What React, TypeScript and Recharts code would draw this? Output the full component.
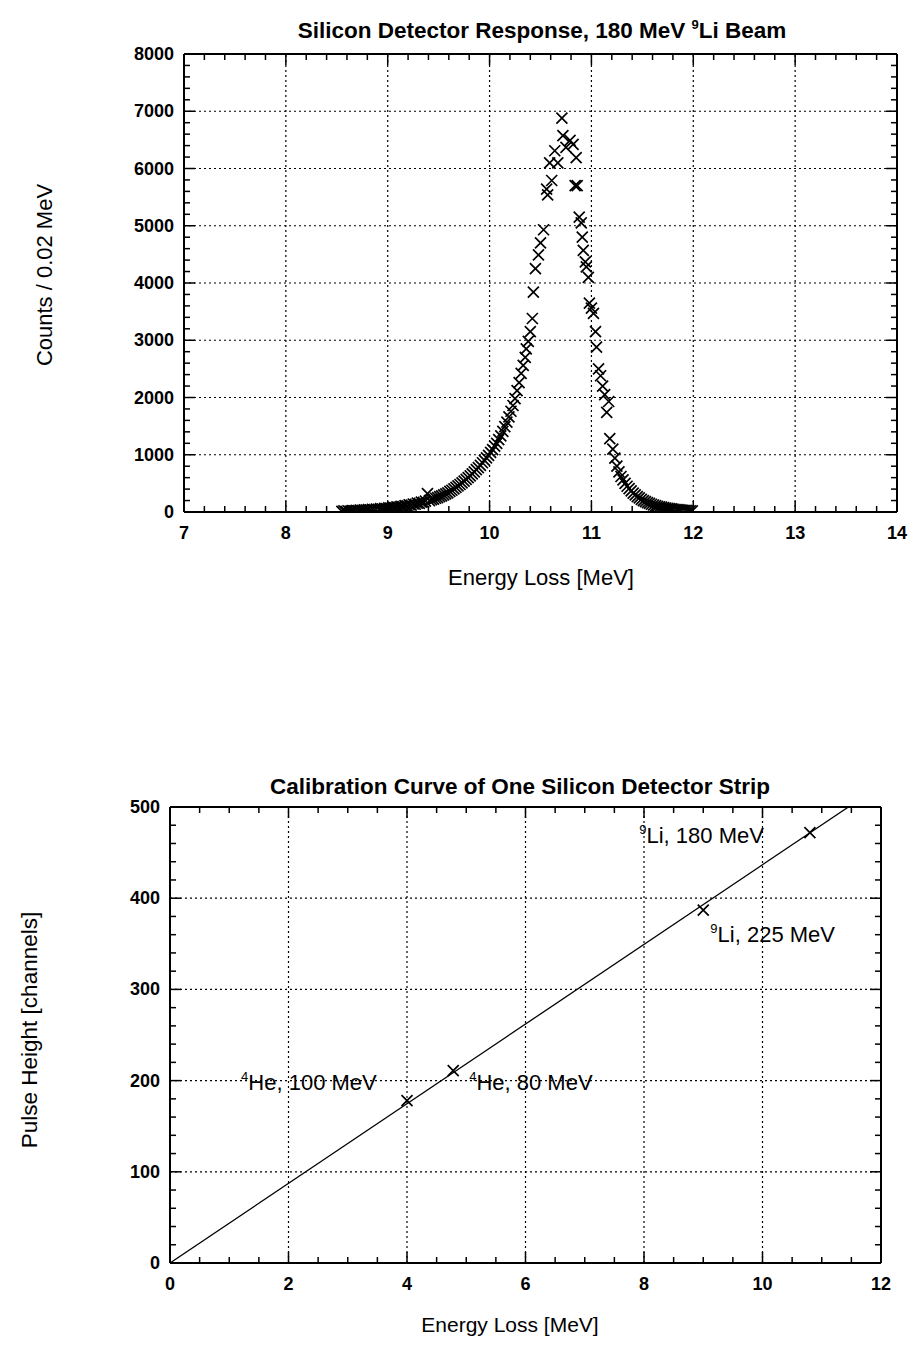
import React from 'react';
import { ScatterChart, Scatter, XAxis, YAxis, ReferenceLine } from 'recharts';

const FONT = '"Liberation Sans", Arial, Helvetica, sans-serif';

// top panel: silicon detector response, 180 MeV 9Li beam
const responseLoss = [
  8.55, 8.57, 8.59, 8.61, 8.63, 8.65, 8.67, 8.69, 8.71, 8.73,
  8.75, 8.77, 8.79, 8.81, 8.83, 8.85, 8.87, 8.89, 8.91, 8.93,
  8.95, 8.97, 8.99, 9.01, 9.03, 9.05, 9.07, 9.09, 9.11, 9.13,
  9.15, 9.17, 9.19, 9.21, 9.23, 9.25, 9.27, 9.29, 9.31, 9.33,
  9.35, 9.37, 9.39, 9.41, 9.43, 9.45, 9.47, 9.49, 9.51, 9.53,
  9.55, 9.57, 9.59, 9.61, 9.63, 9.65, 9.67, 9.69, 9.71, 9.73,
  9.75, 9.77, 9.79, 9.81, 9.83, 9.85, 9.87, 9.89, 9.91, 9.93,
  9.95, 9.97, 9.99, 10.01, 10.03, 10.05, 10.07, 10.09, 10.11, 10.13,
  10.15, 10.17, 10.19, 10.21, 10.23, 10.25, 10.27, 10.29, 10.31, 10.33,
  10.35, 10.36, 10.38, 10.40, 10.42, 10.43, 10.45, 10.48, 10.50, 10.53,
  10.56, 10.57, 10.59, 10.61, 10.64, 10.67, 10.71, 10.72, 10.75, 10.79,
  10.82, 10.84, 10.85, 10.86, 10.88, 10.90, 10.91, 10.92, 10.94, 10.95,
  10.97, 10.98, 11.00, 11.02, 11.04, 11.05, 11.07, 11.09, 11.11, 11.13,
  11.15, 11.17, 11.18, 11.21, 11.23, 11.25, 11.27, 11.29, 11.31, 11.33,
  11.35, 11.37, 11.39, 11.41, 11.43, 11.45, 11.47, 11.49, 11.51, 11.53,
  11.55, 11.57, 11.59, 11.61, 11.63, 11.65, 11.67, 11.69, 11.71, 11.73,
  11.75, 11.77, 11.79, 11.81, 11.83, 11.85, 11.87, 11.89, 11.91, 11.93,
  11.95, 11.97, 11.99,
];
const responseCounts = [
  10, 18, 12, 22, 15, 25, 20, 30, 24, 35,
  28, 38, 33, 42, 36, 48, 40, 52, 46, 58,
  52, 64, 60, 72, 66, 80, 75, 90, 85, 100,
  96, 112, 108, 125, 120, 140, 135, 155, 150, 172,
  168, 190, 320, 200, 215, 225, 240, 250, 268, 280,
  300, 318, 335, 360, 380, 405, 430, 455, 480, 510,
  540, 570, 600, 630, 665, 700, 740, 775, 815, 860,
  900, 945, 990, 1040, 1090, 1150, 1200, 1265, 1330, 1410,
  1490, 1570, 1660, 1760, 1860, 1980, 2120, 2260, 2420, 2560,
  2700, 2850, 2980, 3150, 3380, 3840, 4250, 4490, 4700, 4930,
  5640, 5540, 6100, 5790, 6310, 6100, 6880, 6575, 6370, 6490,
  6420, 5700, 6190, 5700, 5150, 5050, 4800, 4570, 4370, 4280,
  4100, 3650, 3560, 3470, 3150, 2880, 2500, 2380, 2200, 2050,
  1740, 1930, 1280, 1100, 940, 800, 700, 620, 560, 500,
  450, 410, 370, 330, 300, 270, 245, 220, 200, 180,
  165, 150, 135, 122, 110, 100, 92, 84, 77, 70,
  64, 58, 53, 48, 44, 40, 36, 33, 30, 27,
  24, 22, 20,
];
const responseXTicks = [7, 8, 9, 10, 11, 12, 13, 14];
const responseYTicks = [0, 1000, 2000, 3000, 4000, 5000, 6000, 7000, 8000];

// bottom panel: calibration of one strip
const calibLoss = [4.0, 4.78, 9.0, 10.8];
const calibPulse = [178, 211, 387, 472];
const fitLoss = [0, 11.45];
const fitPulse = [0, 500];
const labelLoss = [7.92, 9.12, 1.2, 5.05];
const labelPulse = [460, 352, 190, 190];
const labelIsotope = ['9', '9', '4', '4'];
const labelText = ['Li, 180 MeV', 'Li, 225 MeV', 'He, 100 MeV', 'He, 80 MeV'];
const calibXTicks = [0, 2, 4, 6, 8, 10, 12];
const calibYTicks = [0, 100, 200, 300, 400, 500];

const responseData = responseLoss.map((x, i) => ({ x, y: responseCounts[i] }));
const calibData = calibLoss.map((x, i) => ({ x, y: calibPulse[i] }));
const fitData = fitLoss.map((x, i) => ({ x, y: fitPulse[i] }));
const labelData = labelLoss.map((x, i) => ({ x, y: labelPulse[i], iso: labelIsotope[i], text: labelText[i] }));

function minorSteps(from: number, to: number, step: number) {
  const out: number[] = [];
  for (let v = from; v <= to + 1e-9; v += step) out.push(Math.round(v * 1000) / 1000);
  return out;
}

const Cross = (props: any) => {
  const { cx, cy } = props;
  if (cx == null || cy == null) return <g />;
  const s = 5.5;
  return (
    <path
      d={`M${cx - s},${cy - s}L${cx + s},${cy + s}M${cx - s},${cy + s}L${cx + s},${cy - s}`}
      stroke="#000"
      strokeWidth={1.7}
      fill="none"
    />
  );
};

const Annotation = (props: any) => {
  const { cx, cy, payload } = props;
  if (cx == null || cy == null) return <g />;
  return (
    <text x={cx} y={cy} fontFamily={FONT} fontSize={22} fill="#000">
      <tspan fontSize={13} dy={-9}>{payload.iso}</tspan>
      <tspan dy={9}>{payload.text}</tspan>
    </text>
  );
};

// ticks point into the frame, labels sit outside
const axisTick = (side: string, majors: number[], showLabel: boolean) => (props: any) => {
  const { x, y, payload } = props;
  const v = payload.value;
  const major = majors.some((m) => Math.abs(m - v) < 1e-6);
  const len = major ? 11 : 6;
  let x2 = x;
  let y2 = y;
  if (side === 'bottom') y2 = y - len;
  if (side === 'top') y2 = y + len;
  if (side === 'left') x2 = x + len;
  if (side === 'right') x2 = x - len;
  let label = null;
  if (showLabel && major) {
    if (side === 'bottom') {
      label = (
        <text x={x} y={y + 27} textAnchor="middle" fontFamily={FONT} fontSize={18} fontWeight="bold" fill="#000">
          {v}
        </text>
      );
    } else if (side === 'left') {
      label = (
        <text x={x - 10} y={y + 6} textAnchor="end" fontFamily={FONT} fontSize={18} fontWeight="bold" fill="#000">
          {v}
        </text>
      );
    }
  }
  return (
    <g>
      <line x1={x} y1={y} x2={x2} y2={y2} stroke="#000" strokeWidth={1.5} />
      {label}
    </g>
  );
};

function Frame({ xDomain, yDomain, xMajors, yMajors, xMinor, yMinor }: any) {
  const xTicks = minorSteps(xDomain[0], xDomain[1], xMinor);
  const yTicks = minorSteps(yDomain[0], yDomain[1], yMinor);
  const common = { type: 'number' as const, allowDataOverflow: true, tickSize: 0, tickMargin: 0, interval: 0 as const };
  const axisLine = { stroke: '#000', strokeWidth: 2 };
  return [
    <XAxis key="xb" xAxisId={0} dataKey="x" orientation="bottom" height={1} domain={xDomain} ticks={xTicks}
      tick={axisTick('bottom', xMajors, true)} tickLine={false} axisLine={axisLine} {...common} />,
    <XAxis key="xt" xAxisId="top" dataKey="x" orientation="top" height={1} domain={xDomain} ticks={xTicks}
      tick={axisTick('top', xMajors, false)} tickLine={false} axisLine={axisLine} {...common} />,
    <YAxis key="yl" yAxisId={0} dataKey="y" orientation="left" width={1} domain={yDomain} ticks={yTicks}
      tick={axisTick('left', yMajors, true)} tickLine={false} axisLine={axisLine} {...common} />,
    <YAxis key="yr" yAxisId="right" dataKey="y" orientation="right" width={1} domain={yDomain} ticks={yTicks}
      tick={axisTick('right', yMajors, false)} tickLine={false} axisLine={axisLine} {...common} />,
    ...xMajors.slice(1, -1).map((v: number) => (
      <ReferenceLine key={`gx${v}`} x={v} stroke="#000" strokeWidth={1.2} strokeDasharray="2 3" />
    )),
    ...yMajors.slice(1, -1).map((v: number) => (
      <ReferenceLine key={`gy${v}`} y={v} stroke="#000" strokeWidth={1.2} strokeDasharray="2 3" />
    )),
  ];
}

const textBase: React.CSSProperties = { position: 'absolute', fontFamily: FONT, color: '#000', whiteSpace: 'nowrap' };

export default function App() {
  return (
    <div style={{ position: 'absolute', left: 0, top: 0, width: 914, height: 1351, background: '#fff' }}>
      <div style={{ ...textBase, left: 542, top: 31, transform: 'translate(-50%, -50%)', fontSize: 22.5, fontWeight: 'bold' }}>
        Silicon Detector Response, 180 MeV <span style={{ fontSize: 13, position: 'relative', top: -9 }}>9</span>Li Beam
      </div>
      <div style={{ ...textBase, left: 45, top: 275, transform: 'translate(-50%, -50%) rotate(-90deg)', fontSize: 22 }}>
        Counts / 0.02 MeV
      </div>
      <div style={{ ...textBase, left: 541, top: 578, transform: 'translate(-50%, -50%)', fontSize: 22 }}>
        Energy Loss [MeV]
      </div>
      <div style={{ position: 'absolute', left: 0, top: 0 }}>
        <ScatterChart width={914} height={600} margin={{ top: 53, right: 16, bottom: 87, left: 183 }}>
          {Frame({ xDomain: [7, 14], yDomain: [0, 8000], xMajors: responseXTicks, yMajors: responseYTicks, xMinor: 0.2, yMinor: 200 })}
          <Scatter data={responseData} shape={Cross} isAnimationActive={false} />
        </ScatterChart>
      </div>

      <div style={{ ...textBase, left: 520, top: 787, transform: 'translate(-50%, -50%)', fontSize: 22.5, fontWeight: 'bold' }}>
        Calibration Curve of One Silicon Detector Strip
      </div>
      <div style={{ ...textBase, left: 30, top: 1030, transform: 'translate(-50%, -50%) rotate(-90deg)', fontSize: 22.5 }}>
        Pulse Height [channels]
      </div>
      <div style={{ ...textBase, left: 510, top: 1325, transform: 'translate(-50%, -50%)', fontSize: 21 }}>
        Energy Loss [MeV]
      </div>
      <div style={{ position: 'absolute', left: 0, top: 700 }}>
        <ScatterChart width={914} height={651} margin={{ top: 106, right: 32, bottom: 87, left: 169 }}>
          {Frame({ xDomain: [0, 12], yDomain: [0, 500], xMajors: calibXTicks, yMajors: calibYTicks, xMinor: 0.5, yMinor: 20 })}
          <Scatter data={fitData} line={{ stroke: '#000', strokeWidth: 1.3 }} shape={() => <g />} isAnimationActive={false} />
          <Scatter data={calibData} shape={Cross} isAnimationActive={false} />
          <Scatter data={labelData} shape={Annotation} isAnimationActive={false} />
        </ScatterChart>
      </div>
    </div>
  );
}
